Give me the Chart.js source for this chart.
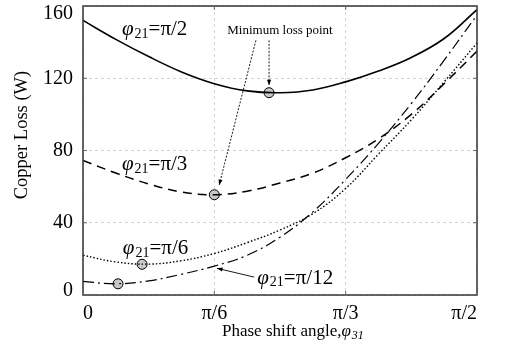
<!DOCTYPE html>
<html lang="en">
<head>
<meta charset="UTF-8">
<title>Copper loss vs phase shift angle</title>
<script src="https://cdn.jsdelivr.net/npm/chart.js"></script>
<style>
  html, body { margin: 0; padding: 0; background: #fff; }
  #wrap { width: 510px; height: 350px; }
</style>
</head>
<body>
<div id="wrap"><canvas id="grafico"></canvas></div>
<script>
// phase shift angle phi31 in degrees (0 .. pi/2)
const degs = [0, 7.5, 15, 22.5, 30, 37.5, 45, 52.5, 60, 67.5, 75, 82.5, 90];
// copper loss (W) for each phi21
const lossHalfPi    = [152, 141.5, 132, 123.5, 117, 113, 112, 113.5, 118, 124, 131.5, 142, 158];
const lossThirdPi   = [74.5, 67.5, 61.5, 57, 55.5, 57.5, 62, 67.5, 76, 86.5, 100, 117, 135];
const lossSixthPi   = [22, 18.3, 17.1, 19, 23, 29, 36, 45, 59, 78, 97, 118, 139.5];
const lossTwelfthPi = [7.5, 6.2, 7.8, 11.5, 16, 22, 32, 46, 64, 84, 106, 130, 155];
// minimum loss points
const minDeg  = [42.5, 30, 13.5, 8];
const minLoss = [112, 55.5, 17, 6.2];
// ticks
const xTickVals = [0, 30, 60, 90];
const xTickLabels = ['0', 'π/6', 'π/3', 'π/2'];
const yTickVals = [0, 40, 80, 120, 160];

const SERIF = '"Liberation Serif", "DejaVu Serif", serif';

function pts(ys) {
    return degs.map((d, i) => ({ x: d, y: ys[i] }));
}

// curve labels: [x deg, y W, subscript, rest]
const curveLabels = [
    [8.9, 146.8, '21', '=π/2'],
    [8.9, 72.3, '21', '=π/3'],
    [9.1, 25.7, '21', '=π/6'],
    [39.8, 9.3, '21', '=π/12']
];

function drawPhiLabel(ctx, x, y, sub, rest, size, italicSub) {
    ctx.textBaseline = 'middle';
    ctx.textAlign = 'left';
    ctx.fillStyle = '#000';
    ctx.font = 'italic ' + size + 'px ' + SERIF;
    ctx.fillText('φ', x, y);
    x += ctx.measureText('φ').width + 1;
    ctx.font = (italicSub ? 'italic ' : '') + Math.round(size * 0.68) + 'px ' + SERIF;
    ctx.fillText(sub, x, y + size * 0.22);
    x += ctx.measureText(sub).width;
    if (rest) {
        ctx.font = size + 'px ' + SERIF;
        ctx.fillText(rest, x, y);
    }
}

function arrow(ctx, x1, y1, x2, y2, dash, head) {
    ctx.save();
    ctx.strokeStyle = '#000';
    ctx.lineWidth = 0.9;
    ctx.setLineDash(dash);
    ctx.beginPath();
    ctx.moveTo(x1, y1);
    ctx.lineTo(x2, y2);
    ctx.stroke();
    ctx.setLineDash([]);
    if (head) {
        const a = Math.atan2(y2 - y1, x2 - x1);
        ctx.beginPath();
        ctx.moveTo(x2, y2);
        ctx.lineTo(x2 - 6 * Math.cos(a - 0.35), y2 - 6 * Math.sin(a - 0.35));
        ctx.lineTo(x2 - 6 * Math.cos(a + 0.35), y2 - 6 * Math.sin(a + 0.35));
        ctx.closePath();
        ctx.fillStyle = '#000';
        ctx.fill();
    }
    ctx.restore();
}

const extras = {
    id: 'extras',
    afterDraw(chart) {
        const ctx = chart.ctx;
        const xs = chart.scales.x, ys = chart.scales.y;
        const a = chart.chartArea;
        ctx.save();
        // frame
        ctx.strokeStyle = '#333';
        ctx.lineWidth = 1.5;
        ctx.strokeRect(a.left, a.top, a.right - a.left, a.bottom - a.top);
        // inward tick marks
        ctx.lineWidth = 1;
        ctx.strokeStyle = '#666';
        yTickVals.forEach(v => {
            const py = ys.getPixelForValue(v);
            ctx.beginPath();
            ctx.moveTo(a.left, py); ctx.lineTo(a.left + 4, py);
            ctx.moveTo(a.right, py); ctx.lineTo(a.right - 4, py);
            ctx.stroke();
        });
        xTickVals.forEach(v => {
            const px = xs.getPixelForValue(v);
            ctx.beginPath();
            ctx.moveTo(px, a.bottom); ctx.lineTo(px, a.bottom - 4);
            ctx.moveTo(px, a.top); ctx.lineTo(px, a.top + 4);
            ctx.stroke();
        });
        // y tick labels
        ctx.fillStyle = '#000';
        ctx.font = '20px ' + SERIF;
        ctx.textAlign = 'right';
        ctx.textBaseline = 'middle';
        yTickVals.forEach(v => {
            let py = ys.getPixelForValue(v);
            py = Math.max(py, a.top + 8);
            py = Math.min(py, a.bottom - 4);
            ctx.fillText(String(v), a.left - 10, py);
        });
        // y title
        ctx.save();
        ctx.translate(22, 135);
        ctx.rotate(-Math.PI / 2);
        ctx.textAlign = 'center';
        ctx.font = '18.5px ' + SERIF;
        ctx.fillText('Copper Loss (W)', 0, 0);
        ctx.restore();
        // x title
        ctx.font = '17px ' + SERIF;
        ctx.textAlign = 'left';
        ctx.textBaseline = 'middle';
        const t = 'Phase shift angle,';
        ctx.fillText(t, 222, 332);
        drawPhiLabel(ctx, 222 + ctx.measureText(t).width, 332, '31', '', 17, true);
        // curve labels
        curveLabels.forEach(l => {
            drawPhiLabel(ctx, xs.getPixelForValue(l[0]), ys.getPixelForValue(l[1]), l[2], l[3], 21, false);
        });
        // minimum loss point note and arrows
        ctx.font = '13px ' + SERIF;
        ctx.textAlign = 'center';
        ctx.textBaseline = 'middle';
        ctx.fillStyle = '#000';
        ctx.fillText('Minimum loss point', xs.getPixelForValue(45), ys.getPixelForValue(146.3));
        arrow(ctx, xs.getPixelForValue(42.5), ys.getPixelForValue(141), xs.getPixelForValue(42.5), ys.getPixelForValue(116), [2, 1.5], true);
        arrow(ctx, xs.getPixelForValue(39.5), ys.getPixelForValue(141), xs.getPixelForValue(31.1), ys.getPixelForValue(60.8), [2, 1.5], true);
        arrow(ctx, xs.getPixelForValue(39.1), ys.getPixelForValue(9.9), xs.getPixelForValue(30.6), ys.getPixelForValue(14.8), [], true);
        ctx.restore();
    }
};

const linha = {
    borderColor: '#000',
    pointRadius: 0,
    tension: 0.4,
    fill: false
};

const chart = new Chart('grafico', {
    type: 'line',
    data: {
        datasets: [
            Object.assign({ label: 'π/2', data: pts(lossHalfPi), borderWidth: 1.6 }, linha),
            Object.assign({ label: 'π/3', data: pts(lossThirdPi), borderWidth: 1.5, borderDash: [9, 6] }, linha),
            Object.assign({ label: 'π/6', data: pts(lossSixthPi), borderWidth: 1.4, borderDash: [1.5, 2] }, linha),
            Object.assign({ label: 'π/12', data: pts(lossTwelfthPi), borderWidth: 1.2, borderDash: [11, 4, 2, 4] }, linha),
            {
                type: 'scatter',
                label: 'min',
                data: minDeg.map((d, i) => ({ x: d, y: minLoss[i] })),
                pointRadius: 5,
                pointBackgroundColor: '#c8c8c8',
                pointBorderColor: '#000',
                pointBorderWidth: 1,
                showLine: false
            }
        ]
    },
    options: {
        responsive: true,
        maintainAspectRatio: false,
        animation: false,
        layout: { padding: { top: 3, right: 33, left: 0, bottom: 0 } },
        plugins: { legend: { display: false }, tooltip: { enabled: false } },
        scales: {
            x: {
                type: 'linear',
                min: 0,
                max: 90,
                afterBuildTicks: s => { s.ticks = xTickVals.map(v => ({ value: v })); },
                afterFit: s => { s.height = 55; s.paddingLeft = 0; s.paddingRight = 0; },
                ticks: {
                    align: 'inner',
                    padding: 7,
                    color: '#000',
                    font: { family: SERIF, size: 20 },
                    callback: v => xTickLabels[xTickVals.indexOf(v)]
                },
                grid: { color: '#d4d4d4', drawTicks: false, lineWidth: 1 },
                border: { display: false, dash: [3, 3] }
            },
            y: {
                min: 0,
                max: 160,
                afterBuildTicks: s => { s.ticks = yTickVals.map(v => ({ value: v })); },
                afterFit: s => { s.width = 83; s.paddingTop = 0; s.paddingBottom = 0; },
                ticks: { display: false },
                grid: { color: '#d4d4d4', drawTicks: false, lineWidth: 1 },
                border: { display: false, dash: [3, 3] }
            }
        }
    },
    plugins: [extras]
});
</script>
</body>
</html>
